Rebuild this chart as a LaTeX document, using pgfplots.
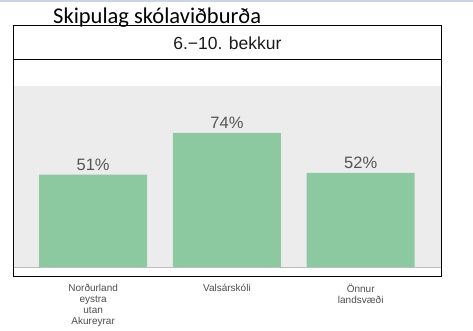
\documentclass[border=0pt]{standalone}
\usepackage{pgfplots}
\pgfplotsset{compat=1.18}
\usepackage{fontspec}
\setmainfont{Liberation Sans}
\newfontfamily\carlito{Carlito}
\definecolor{bargreen}{RGB}{141,201,160}
\definecolor{panelbg}{RGB}{236,236,236}
\definecolor{labgray}{RGB}{77,77,77}
\definecolor{valgray}{RGB}{85,85,85}
\definecolor{topband}{RGB}{205,212,228}
\begin{document}
\begin{tikzpicture}[x=1pt,y=1pt]
\path[use as bounding box] (0,0) rectangle (473,331);
\fill[topband] (0,329) rectangle (473,331);
\begin{axis}[
  at={(13.3pt,54.3pt)}, anchor=south west,
  scale only axis, width=428.2pt, height=217.2pt,
  xmin=0.403, xmax=3.604, ymin=-5.2, ymax=114.5,
  axis line style={draw=none},
  ytick=\empty,
  xtick={1,2,3},
  xticklabels={{Norðurland\\eystra\\utan\\Akureyrar},{Valsárskóli},{Önnur\\landsvæði}},
  major tick length=0pt,
  xticklabel style={align=center, text=labgray, font=\fontsize{10}{11.2}\selectfont, anchor=north, yshift=-3.5pt},
  /pgf/number format/assume math mode=true,
  clip=false,
]
\addplot[fill=panelbg, draw=none, forget plot] coordinates {(0.403,0) (3.604,0) (3.604,100) (0.403,100)} -- cycle;
\addplot[ybar, bar width=108pt, fill=bargreen, draw=none,
  nodes near coords={\pgfmathprintnumber{\pgfplotspointmeta}\%},
  every node near coord/.append style={anchor=base, inner sep=0pt, yshift=4pt, text=valgray, font=\fontsize{16.5}{18}\selectfont}]
  coordinates {(1,51) (2,74) (3,52)};
\addplot[color={rgb,255:red,190;green,190;blue,190}, line width=0.8pt] coordinates {(0.403,0) (3.604,0)};
\end{axis}
\draw[black, line width=1.5pt] (13.3,54.3) rectangle (441.5,271.5);
\draw[black, line width=1pt] (13.3,271.5) rectangle (441.5,305);
\node[anchor=base, inner sep=0pt, text={rgb,255:red,26;green,26;blue,26}, font=\fontsize{17.5}{20}\selectfont] at (227.4,281) {6.−10. bekkur};
\node[anchor=base west, inner sep=0pt, font=\carlito\fontsize{22.5}{26}\selectfont] at (53,307) {Skipulag skólaviðburða};
\end{tikzpicture}
\end{document}
